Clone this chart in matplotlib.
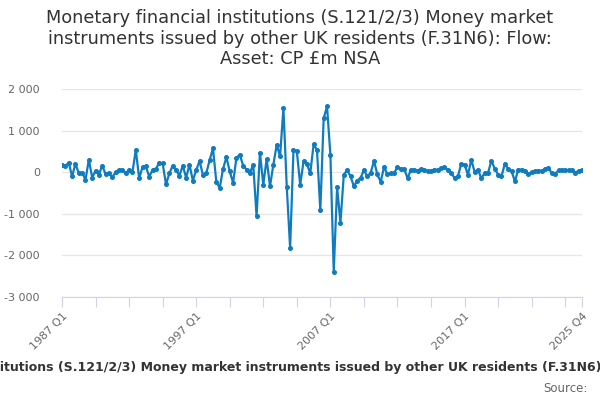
import matplotlib
matplotlib.use("Agg")
import matplotlib.pyplot as plt

title = ("Monetary financial institutions (S.121/2/3) Money market\n"
         "instruments issued by other UK residents (F.31N6): Flow:\n"
         "Asset: CP £m NSA")
series_name = ("Monetary financial institutions (S.121/2/3) Money market instruments "
               "issued by other UK residents (F.31N6): Flow: Asset: CP £m NSA")

years = list(range(1987, 2026))
quarters = [f"{y} Q{q}" for y in years for q in range(1, 5)]

values = [
    180, 150, 230, -100, 200, -20, -10, -180, 300, -130,
    40, -60, 160, -50, -30, -120, 0, 50, 60, -30,
    60, 0, 540, -150, 130, 140, -110, 60, 80, 230,
    210, -290, -30, 160, 50, -80, 160, -135, 180, -200,
    50, 270, -65, -30, 290, 570, -230, -380, 80, 360,
    20, -255, 350, 420, 160, 64, -20, 180, -1060, 470,
    -300, 320, -340, 180, 660, 380, 1540, -360, -1820, 530,
    500, -300, 260, 200, -30, 670, 540, -920, 1300, 1580,
    420, -2390, -360, -1210, -60, 50, -100, -340, -200, -135,
    50, -100, -15, 270, -55, -230, 130, -55, -30, -15,
    120, 80, 80, -145, 60, 60, 40, 80, 60, 20,
    20, 60, 60, 100, 120, 48, -16, -140, -100, 200,
    180, -60, 300, 0, 64, -150, -16, -16, 280, 80,
    -56, -100, 200, 80, 24, -220, 64, 64, 20, -40,
    0, 24, 40, 40, 80, 110, -30, -40, 50, 48,
    48, 48, 50, -20, 40, 48,
]

yticks = [2000, 1000, 0, -1000, -2000, -3000]
ytick_labels = ["2 000", "1 000", "0", "-1 000", "-2 000", "-3 000"]
label_quarters = ["1987 Q1", "1997 Q1", "2007 Q1", "2017 Q1", "2025 Q4"]

plt.rcParams['font.family'] = ['DejaVu Sans']
fig = plt.figure(figsize=(6, 4), dpi=100)
ax = fig.add_axes([62/600, 103/400, 520/600, 208/400])

x = list(range(len(values)))
ax.plot(x, values, color='#0f7cc0', lw=1.6, marker='o', ms=2.6, zorder=3)

ax.set_xlim(0, len(values) - 1)
ax.set_ylim(-3000, 2000)

ax.set_yticks(yticks)
ax.set_yticklabels(ytick_labels, fontsize=8, color='#666666')
ax.tick_params(axis='y', length=0, pad=16)
ax.grid(axis='y', color='#e6e6e6', lw=0.9)
ax.set_axisbelow(True)

tick_pos = list(range(0, len(values), 10)) + [len(values) - 1]
ax.set_xticks(tick_pos)
ax.set_xticklabels([quarters[p] if quarters[p] in label_quarters else "" for p in tick_pos],
                   rotation=45, ha='right', rotation_mode='anchor',
                   fontsize=8, color='#666666')
ax.tick_params(axis='x', length=7, color='#ccd6eb', pad=3)

for s in ['top', 'right', 'left']:
    ax.spines[s].set_visible(False)
ax.spines['bottom'].set_color('#ccd6eb')

fig.text(0.5, 0.978, title, ha='center', va='top', fontsize=12.8, color='#333333',
         linespacing=1.2)
fig.text(0.514, 0.08, series_name, ha='center', va='center', fontsize=9,
         fontweight='bold', color='#333333')
fig.text(0.98, 0.03, "Source:", ha='right', va='center', fontsize=8.5, color='#666666')

fig.savefig("out.png", dpi=100)
